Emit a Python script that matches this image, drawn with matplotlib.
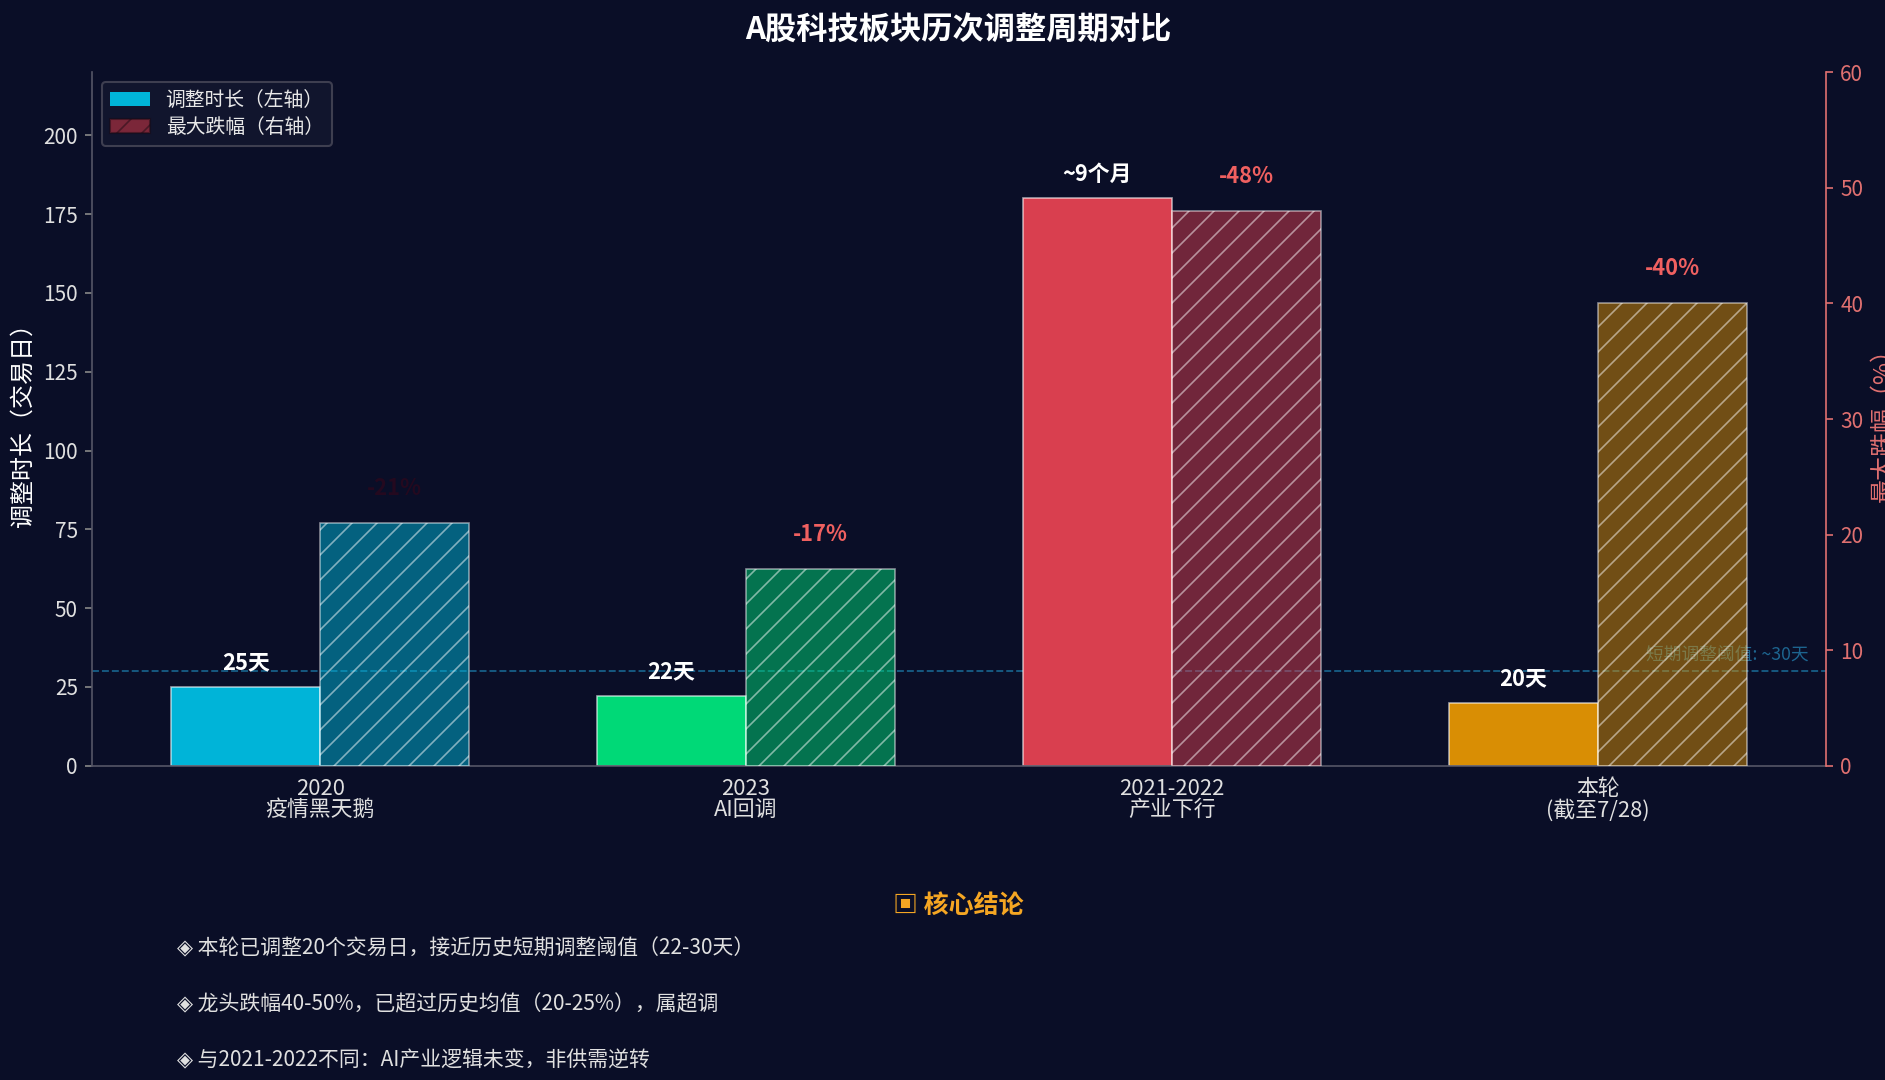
import matplotlib
matplotlib.use("Agg")
import matplotlib.pyplot as plt
from matplotlib.patches import Patch
import numpy as np

plt.rcParams['font.family'] = ['Noto Sans CJK SC', 'DejaVu Sans']
plt.rcParams['axes.unicode_minus'] = False
plt.rcParams['hatch.linewidth'] = 0.8

BG = "#0a0e27"

# 数据
periods = ["2020\n疫情黑天鹅", "2023\nAI回调", "2021-2022\n产业下行", "本轮\n(截至7/28)"]
duration_days = [25, 22, 180, 20]
duration_labels = ["25天", "22天", "~9个月", "20天"]
max_drop = [21, 17, 48, 40]
drop_labels = ["-21%", "-17%", "-48%", "-40%"]
bar_colors = ["#00b4d8", "#00d977", "#d93f4f", "#d98e04"]
drop_label_colors = ["#24091f", "#f06060", "#f06060", "#f06060"]
threshold = 30

conclusions = [
    "◈ 本轮已调整20个交易日，接近历史短期调整阈值（22-30天）",
    "◈ 龙头跌幅40-50%，已超过历史均值（20-25%），属超调",
    "◈ 与2021-2022不同：AI产业逻辑未变，非供需逆转",
]

fig = plt.figure(figsize=(12.573, 7.2), dpi=150, facecolor=BG)
ax1 = fig.add_axes([0.049, 0.291, 0.919, 0.642])
ax1.set_facecolor(BG)
ax2 = ax1.twinx()

x = np.arange(len(periods))
width = 0.35

bars1 = ax1.bar(x - width / 2, duration_days, width, color=bar_colors,
                edgecolor=(1, 1, 1, 0.6), linewidth=0.8, zorder=2)
bars2 = ax2.bar(x + width / 2, max_drop, width, color=bar_colors, alpha=0.5,
                hatch="//", edgecolor="white", linewidth=0.8, zorder=2)

for i, b in enumerate(bars1):
    ax1.text(b.get_x() + b.get_width() / 2, duration_days[i] + 4, duration_labels[i],
             ha="center", va="bottom", color="white", fontsize=10.5, fontweight="bold")
for i, b in enumerate(bars2):
    ax2.text(b.get_x() + b.get_width() / 2, max_drop[i] + 2, drop_labels[i],
             ha="center", va="bottom", color=drop_label_colors[i], fontsize=10.5,
             fontweight="bold")

# 阈值线
ax1.axhline(threshold, color="#1f8fc0", linestyle="--", linewidth=0.9, alpha=0.6, zorder=1)
ax1.text(3.495, threshold + 2, "短期调整阈值: ~30天", ha="right", va="bottom",
         color="#2a9fd6", alpha=0.6, fontsize=8.5)

ax1.set_ylim(0, 220)
ax2.set_ylim(0, 60)
ax1.set_xticks(x)
ax1.set_xticklabels(periods, color="#e0e0e0", fontsize=10.5, linespacing=0.95)
ax1.tick_params(axis="x", length=0, pad=6)
ax1.tick_params(axis="y", colors="#e0e0e0", labelsize=10, color="#888888")
ax2.tick_params(axis="y", colors="#e07070", labelsize=10)
ax1.set_ylabel("调整时长（交易日）", color="white", fontsize=11.5)
ax2.set_ylabel("最大跌幅（%）", color="#e07070", fontsize=11.5)

for ax in (ax1, ax2):
    ax.spines["top"].set_visible(False)
ax1.spines["left"].set_color("#555566")
ax1.spines["bottom"].set_color("#555566")
ax1.spines["right"].set_visible(False)
ax2.spines["left"].set_visible(False)
ax2.spines["bottom"].set_visible(False)
ax2.spines["right"].set_color("#e07070")

handles = [
    Patch(facecolor="#00b4d8", label="调整时长（左轴）"),
    Patch(facecolor="#e63946", alpha=0.5, hatch="//", edgecolor="#1a0a14", label="最大跌幅（右轴）"),
]
leg = ax2.legend(handles=handles, loc="upper left", fontsize=9.5, facecolor="#12162e",
                 edgecolor="#444455", framealpha=0.9, labelspacing=0.3)
for t in leg.get_texts():
    t.set_color("#e8e8e8")

fig.text(0.508, 0.972, "A股科技板块历次调整周期对比", ha="center", va="center",
         color="white", fontsize=15, fontweight="bold")

fig.text(0.508, 0.161, "▣ 核心结论", ha="center", va="center", color="#f5a623",
         fontsize=12, fontweight="bold")
for i, line in enumerate(conclusions):
    fig.text(0.094, 0.122 - i * 0.052, line, ha="left", va="center",
             color="#e0e0e0", fontsize=10)

fig.savefig("out.png", dpi=150, facecolor=BG)
